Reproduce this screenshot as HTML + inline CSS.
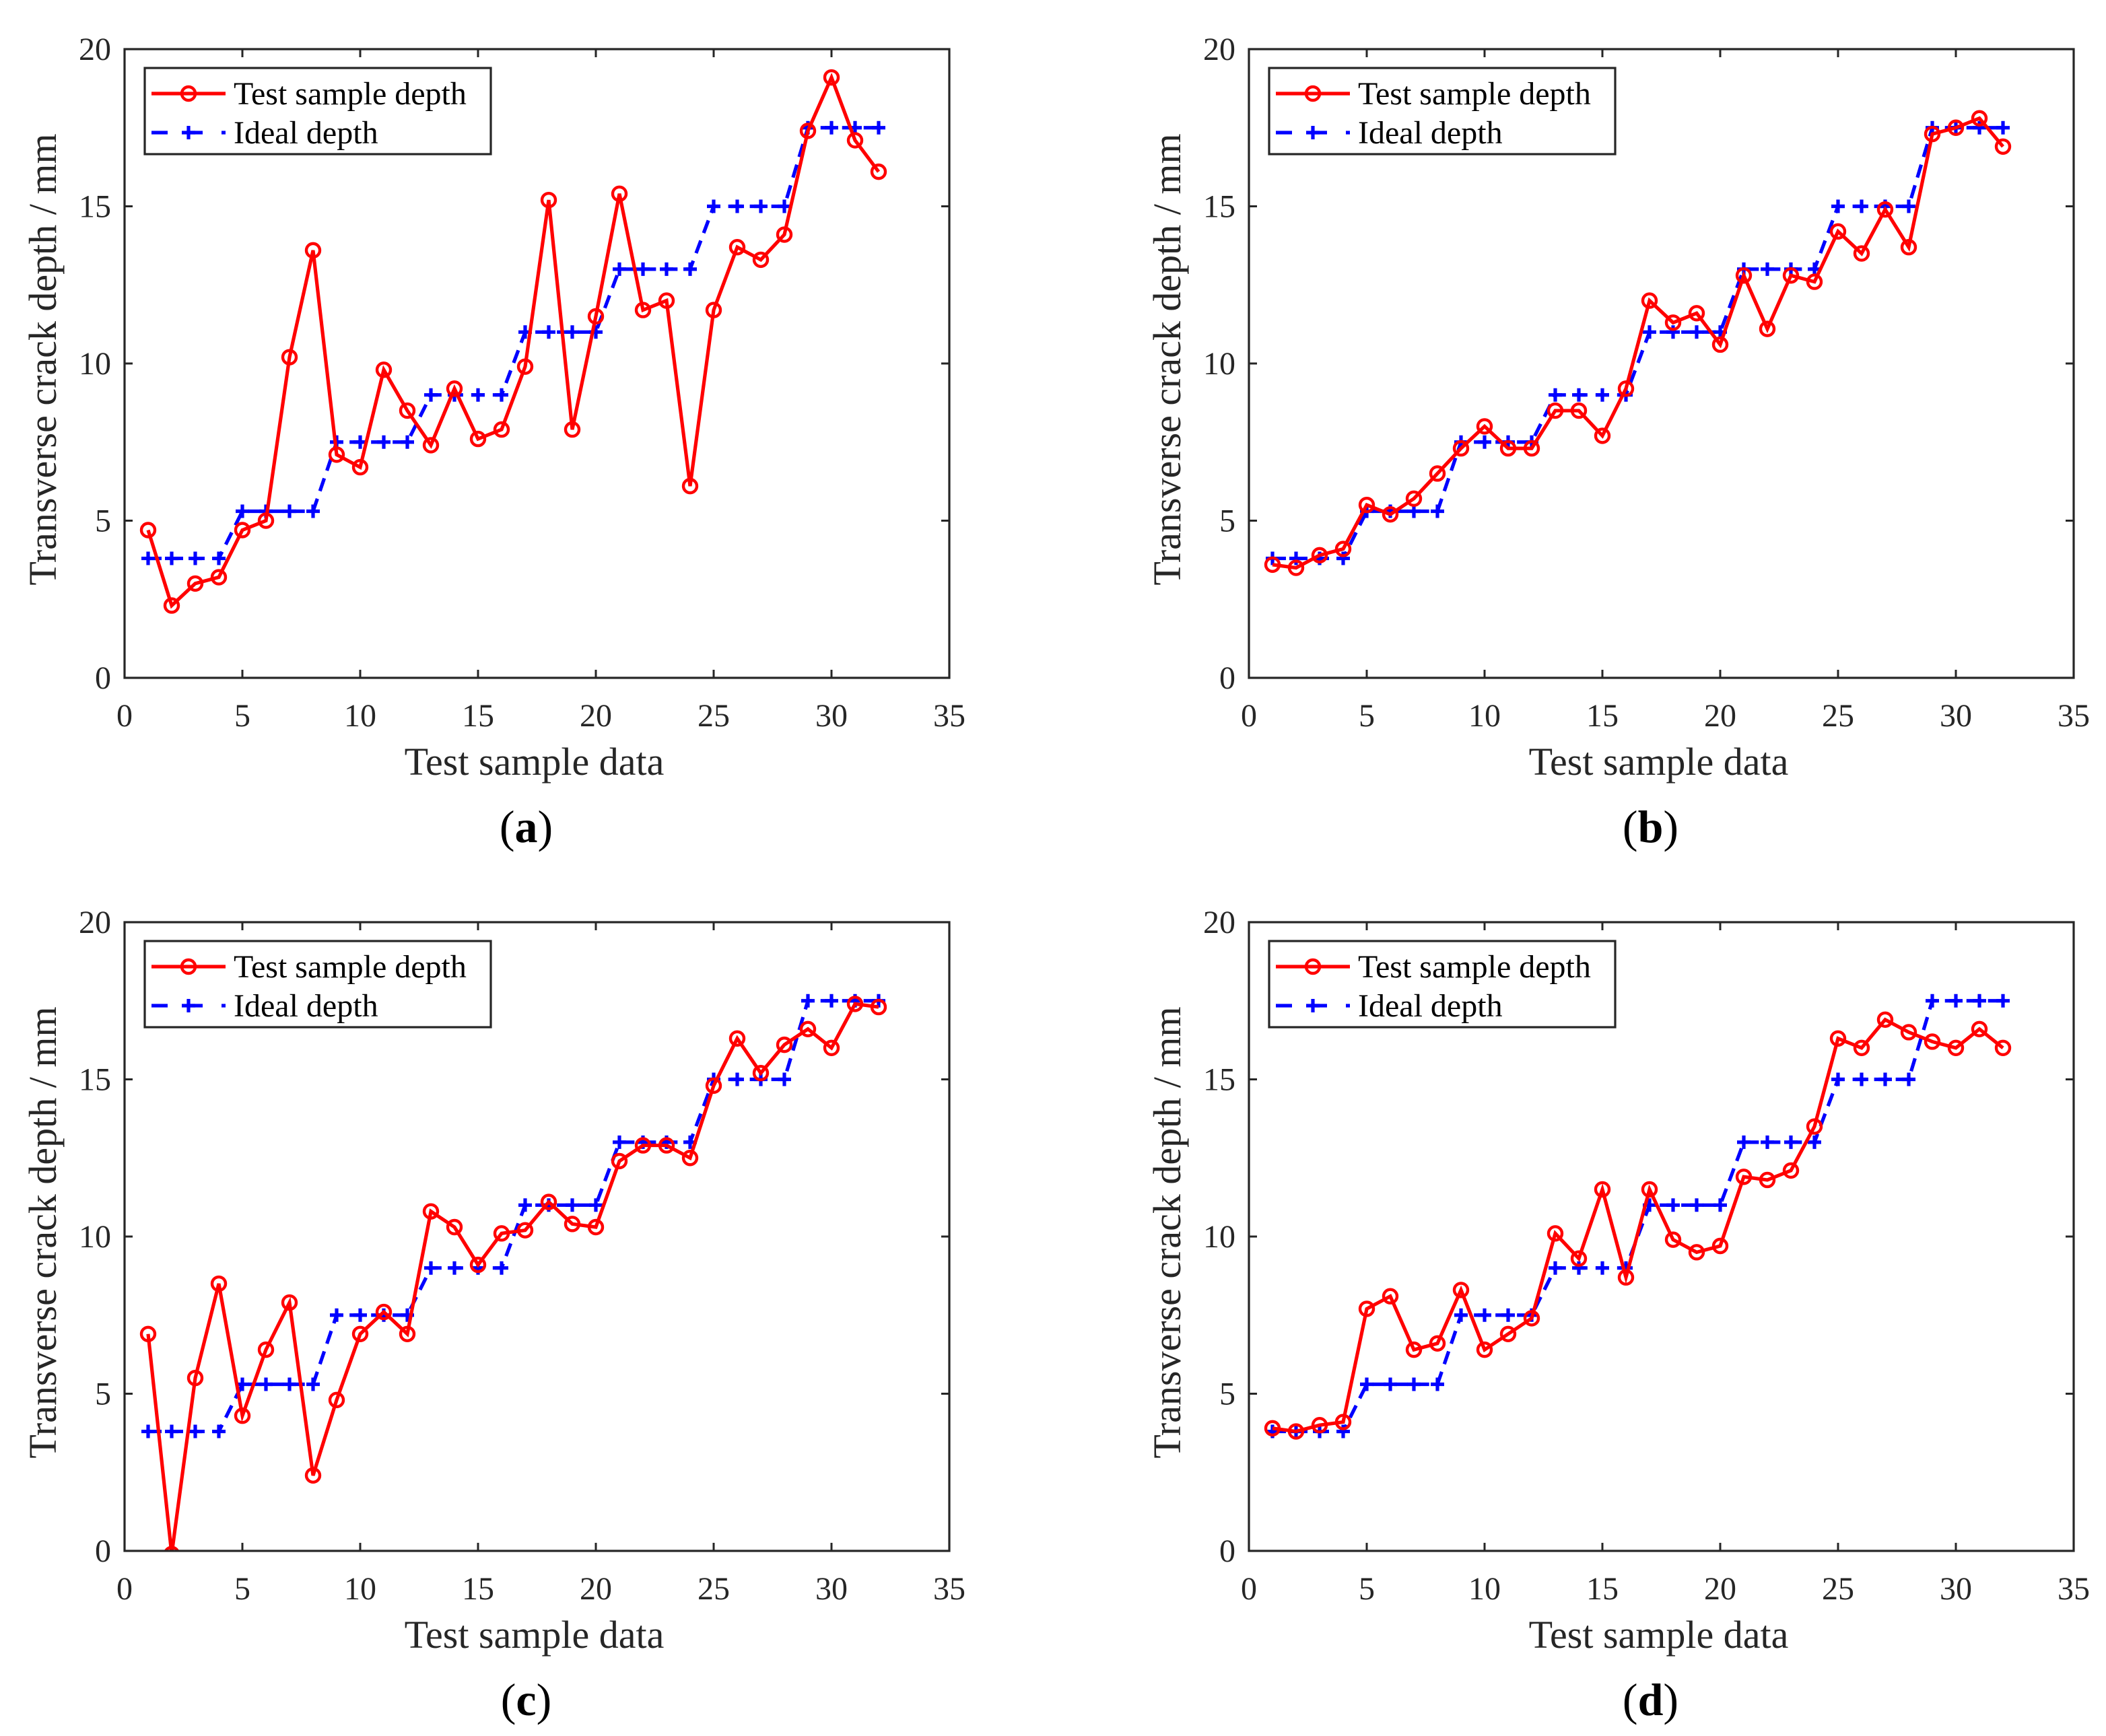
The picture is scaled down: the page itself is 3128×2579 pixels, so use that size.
<!DOCTYPE html>
<html><head><meta charset="utf-8"><style>
html,body{margin:0;padding:0;background:#fff;}
svg{display:block;}
text{font-family:"Liberation Serif","Times New Roman",serif;}
</style></head><body>
<svg id="fig" width="3128" height="2579" viewBox="0 0 1564 1289.5" xmlns="http://www.w3.org/2000/svg" font-family="Liberation Serif, serif"></svg>
<script>
const xTicks=[0,5,10,15,20,25,30,35];
const yTicks=[0,5,10,15,20];
const samples=[1,2,3,4,5,6,7,8,9,10,11,12,13,14,15,16,17,18,19,20,21,22,23,24,25,26,27,28,29,30,31,32];
const idealDepth=[3.8,3.8,3.8,3.8,5.3,5.3,5.3,5.3,7.5,7.5,7.5,7.5,9,9,9,9,11,11,11,11,13,13,13,13,15,15,15,15,17.5,17.5,17.5,17.5];
const testA=[4.7,2.3,3.0,3.2,4.7,5.0,10.2,13.6,7.1,6.7,9.8,8.5,7.4,9.2,7.6,7.9,9.9,15.2,7.9,11.5,15.4,11.7,12.0,6.1,11.7,13.7,13.3,14.1,17.4,19.1,17.1,16.1];
const testB=[3.6,3.5,3.9,4.1,5.5,5.2,5.7,6.5,7.3,8.0,7.3,7.3,8.5,8.5,7.7,9.2,12.0,11.3,11.6,10.6,12.8,11.1,12.8,12.6,14.2,13.5,14.9,13.7,17.3,17.5,17.8,16.9];
const testC=[6.9,-0.1,5.5,8.5,4.3,6.4,7.9,2.4,4.8,6.9,7.6,6.9,10.8,10.3,9.1,10.1,10.2,11.1,10.4,10.3,12.4,12.9,12.9,12.5,14.8,16.3,15.2,16.1,16.6,16.0,17.4,17.3];
const testD=[3.9,3.8,4.0,4.1,7.7,8.1,6.4,6.6,8.3,6.4,6.9,7.4,10.1,9.3,11.5,8.7,11.5,9.9,9.5,9.7,11.9,11.8,12.1,13.5,16.3,16.0,16.9,16.5,16.2,16.0,16.6,16.0];
const panelLabels=["a","b","c","d"];
const panelTests=[testA,testB,testC,testD];

const NS="http://www.w3.org/2000/svg";
const svg=document.getElementById('fig');
const FF='Liberation Serif, Times New Roman, serif';
function mk(tag,attrs,parent){const e=document.createElementNS(NS,tag);for(const k in attrs)e.setAttribute(k,attrs[k]);if(tag==='text')e.setAttribute('font-family',FF);(parent||svg).appendChild(e);return e;}

const origins=[[92.5,36.5],[927.5,36.5],[92.5,685],[927.5,685]];
const W=612.5,H=467;
panelTests.forEach((test,pi)=>{
  const [L,T]=origins[pi];
  const g=mk('g',{});
  
  
  const sx=v=>L+v/35*W, sy=v=>T+H-v/20*H;
  const cid='clip'+pi;
  const cp=mk('clipPath',{id:cid},g);
  mk('rect',{x:L,y:T,width:W,height:H},cp);
  mk('rect',{x:L,y:T,width:W,height:H,fill:'#fff'},g);
  xTicks.forEach(t=>{
    const x=sx(t);
    mk('line',{x1:x,y1:T+H,x2:x,y2:T+H-6,stroke:'#262626','stroke-width':1.5},g);
    mk('line',{x1:x,y1:T,x2:x,y2:T+6,stroke:'#262626','stroke-width':1.5},g);
    const tx=mk('text',{x:x,y:T+H+36,'font-size':24,'text-anchor':'middle',fill:'#262626'},g);
    tx.textContent=t;
    
    
  });
  yTicks.forEach(t=>{
    const y=sy(t);
    mk('line',{x1:L,y1:y,x2:L+6,y2:y,stroke:'#262626','stroke-width':1.5},g);
    mk('line',{x1:L+W,y1:y,x2:L+W-6,y2:y,stroke:'#262626','stroke-width':1.5},g);
    const tx=mk('text',{x:L-10,y:y+8,'font-size':24,'text-anchor':'end',fill:'#262626'},g);
    tx.textContent=t;
    
    
  });
  const dg=mk('g',{'clip-path':`url(#${cid})`},g);
  const ip=samples.map((s,i)=>sx(s)+','+sy(idealDepth[i])).join(' ');
  const il=mk('polyline',{points:ip,fill:'none',stroke:'#0000ff','stroke-width':2.6,'stroke-dasharray':'10,6'},dg);
  
  
  samples.forEach((s,i)=>{
    const x=sx(s),y=sy(idealDepth[i]);
    const p=mk('path',{d:`M${x-5},${y}H${x+5}M${x},${y-5}V${y+5}`,stroke:'#0000ff','stroke-width':2.6},dg);
    
    
  });
  const tp=samples.map((s,i)=>sx(s)+','+sy(test[i])).join(' ');
  const tl=mk('polyline',{points:tp,fill:'none',stroke:'#ff0000','stroke-width':2.6},dg);
  
  
  samples.forEach((s,i)=>{
    const c=mk('circle',{cx:sx(s),cy:sy(test[i]),r:5,fill:'none',stroke:'#ff0000','stroke-width':2.2},dg);
    
    
  });
  mk('rect',{x:L,y:T,width:W,height:H,fill:'none',stroke:'#262626','stroke-width':1.6},g);
  const lg=mk('g',{},g);
  
  
  mk('rect',{x:L+15,y:T+14,width:257,height:64,fill:'#fff',stroke:'#262626','stroke-width':1.6},lg);
  mk('line',{x1:L+20,y1:T+33,x2:L+75,y2:T+33,stroke:'#ff0000','stroke-width':2.6},lg);
  mk('circle',{cx:L+47.5,cy:T+33,r:5,fill:'none',stroke:'#ff0000','stroke-width':2.2},lg);
  const t1=mk('text',{x:L+81,y:T+41,'font-size':24,fill:'#000'},lg);t1.textContent='Test sample depth';
  mk('line',{x1:L+20,y1:T+62,x2:L+75,y2:T+62,stroke:'#0000ff','stroke-width':2.6,'stroke-dasharray':'12,14'},lg);
  mk('path',{d:`M${L+42.5},${T+62}H${L+52.5}M${L+47.5},${T+57}V${T+67}`,stroke:'#0000ff','stroke-width':2.6},lg);
  const t2=mk('text',{x:L+81,y:T+70,'font-size':24,fill:'#000'},lg);t2.textContent='Ideal depth';
  const xl=mk('text',{x:L+W/2-2,y:T+H+72,'font-size':29,'text-anchor':'middle',fill:'#262626'},g);
  xl.textContent='Test sample data';
  
  
  const yl=mk('text',{x:0,y:0,'font-size':29,'text-anchor':'middle',fill:'#262626',transform:`translate(${L-51},${T+H/2-3}) rotate(-90)`},g);
  yl.textContent='Transverse crack depth / mm';
  
  
  const pl=mk('text',{x:L+W/2-8,y:T+H+122,'font-size':34,'text-anchor':'middle',fill:'#000'},g);
  pl.innerHTML='(<tspan font-weight="bold">'+panelLabels[pi]+'</tspan>)';
  
  
});
</script>
</body></html>
